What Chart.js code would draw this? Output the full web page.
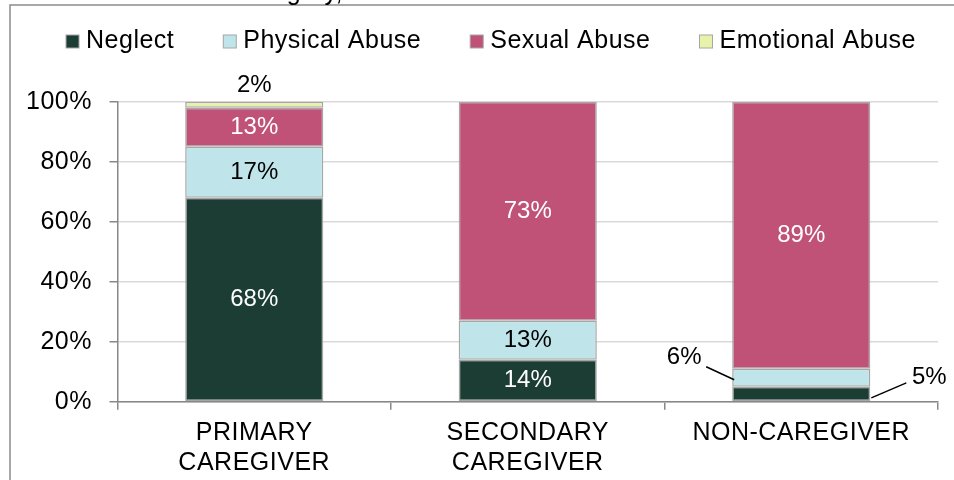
<!DOCTYPE html>
<html>
<head>
<meta charset="utf-8">
<script src="https://cdn.jsdelivr.net/npm/chart.js@4.4.1/dist/chart.umd.min.js"></script>
<style>
	html, body { margin: 0; padding: 0; background: #fff; }
	#chart { display: block; }
</style>
</head>
<body>
<canvas id="chart" width="954" height="480"></canvas>
<script>
const categories = [['PRIMARY', 'CAREGIVER'], ['SECONDARY', 'CAREGIVER'], ['NON-CAREGIVER']]
const seriesNames = ['Neglect', 'Physical Abuse', 'Sexual Abuse', 'Emotional Abuse']
const neglect = [68, 14, 5]
const physicalAbuse = [17, 13, 6]
const sexualAbuse = [13, 73, 89]
const emotionalAbuse = [2, 0, 0]
const yTicks = [0, 20, 40, 60, 80, 100]

const seriesValues = [neglect, physicalAbuse, sexualAbuse, emotionalAbuse]
const colors = ['#1b3d33', '#bfe5ea', '#c05277', '#e9f2aa']
const labelColors = ['#ffffff', '#000000', '#ffffff', '#000000']
const fontFamily = "'Liberation Sans', Arial, sans-serif"

Chart.defaults.font.family = fontFamily
Chart.defaults.color = '#000'

// wider letters like the original export
const spacing = {
	id: 'spacing',
	beforeLayout(chart) { chart.ctx.letterSpacing = '0.5px' },
	beforeDraw(chart) { chart.ctx.letterSpacing = '0.5px' },
}

// outer frame + cut off title at the top
const frame = {
	id: 'frame',
	afterDraw(chart) {
		const ctx = chart.ctx
		ctx.save()
		ctx.strokeStyle = '#8c8c8c'
		ctx.lineWidth = 1.5
		ctx.beginPath()
		ctx.moveTo(954, 5)
		ctx.lineTo(10, 5)
		ctx.lineTo(10, 480)
		ctx.stroke()
		ctx.fillStyle = '#000'
		ctx.font = '25px ' + fontFamily
		ctx.textAlign = 'right'
		ctx.textBaseline = 'alphabetic'
		ctx.fillText('Category,', 343, 0)
		ctx.restore()
	},
}

// legend drawn by hand so the spacing matches
const legendRow = {
	id: 'legendRow',
	afterDraw(chart) {
		const ctx = chart.ctx
		ctx.save()
		ctx.font = '25px ' + fontFamily
		ctx.letterSpacing = '0.5px'
		ctx.textBaseline = 'middle'
		ctx.textAlign = 'left'
		var box = 13
		var gap = 49
		var widths = chart.data.datasets.map((ds) => ctx.measureText(ds.label).width)
		var total = widths.reduce((a, w) => a + box + 7 + w, 0) + gap * (widths.length - 1)
		var x = 491 - total / 2
		var y = 41.5
		chart.data.datasets.forEach((ds, i) => {
			ctx.fillStyle = ds.backgroundColor
			ctx.fillRect(x, y - box / 2, box, box)
			ctx.strokeStyle = '#a6a6a6'
			ctx.lineWidth = 1
			ctx.strokeRect(x, y - box / 2, box, box)
			ctx.fillStyle = '#000'
			ctx.fillText(ds.label, x + box + 7, y)
			x += box + 7 + widths[i] + gap
		})
		ctx.restore()
	},
}

// value labels, small ones go outside with a leader line
const valueLabels = {
	id: 'valueLabels',
	afterDatasetsDraw(chart) {
		const ctx = chart.ctx
		ctx.save()
		ctx.font = '24px ' + fontFamily
		ctx.letterSpacing = '0px'
		ctx.textAlign = 'center'
		ctx.textBaseline = 'middle'
		chart.data.datasets.forEach((ds, di) => {
			chart.getDatasetMeta(di).data.forEach((bar, i) => {
				var v = ds.data[i]
				if (!v) return
				var text = v + '%'
				var h = bar.base - bar.y
				var cy = (bar.y + bar.base) / 2
				var left = bar.x - bar.width / 2
				var right = bar.x + bar.width / 2
				if (h >= 24) {
					ctx.fillStyle = labelColors[di]
					ctx.fillText(text, bar.x, cy)
					return
				}
				ctx.fillStyle = '#000'
				ctx.strokeStyle = '#000'
				ctx.lineWidth = 1.5
				if (di === seriesNames.length - 1) {
					ctx.fillText(text, bar.x, bar.y - 16)
				} else if (di === 0) {
					ctx.beginPath()
					ctx.moveTo(right + 1, cy + 4)
					ctx.lineTo(right + 36, cy - 11)
					ctx.stroke()
					ctx.fillText(text, right + 59, cy - 16)
				} else {
					ctx.beginPath()
					ctx.moveTo(left + 2, cy + 2)
					ctx.lineTo(left - 26, cy - 11)
					ctx.stroke()
					ctx.fillText(text, left - 48, cy - 20)
				}
			})
		})
		ctx.restore()
	},
}

new Chart(document.getElementById('chart'), {
	type: 'bar',
	data: {
		labels: categories,
		datasets: seriesNames.map((name, i) => ({
			label: name,
			data: seriesValues[i],
			backgroundColor: colors[i],
			borderColor: '#a6a6a6',
			borderWidth: (c) => (c.raw ? 1.5 : 0),
			borderSkipped: false,
			barPercentage: 0.505,
			categoryPercentage: 1,
		})),
	},
	options: {
		responsive: false,
		animation: false,
		layout: {
			padding: { top: 101.7, left: 12, right: 16, bottom: 0 },
		},
		scales: {
			x: {
				stacked: true,
				grid: {
					offset: true,
					drawOnChartArea: false,
					color: '#888',
					tickLength: 8,
					lineWidth: 1.5,
				},
				border: { color: '#888', width: 1.5 },
				ticks: {
					font: { size: 25 },
					color: '#000',
					padding: 8,
					maxRotation: 0,
					autoSkip: false,
				},
				afterFit: (s) => {
					s.height = 78.3
				},
			},
			y: {
				stacked: true,
				min: 0,
				max: 100,
				afterBuildTicks: (s) => {
					s.ticks = yTicks.map((v) => ({ value: v }))
				},
				grid: {
					color: '#d9d9d9',
					tickColor: '#888',
					tickLength: 8,
					lineWidth: 1.5,
				},
				border: { color: '#888', width: 1.5 },
				ticks: {
					font: { size: 25 },
					color: '#000',
					padding: 17.5,
					callback: (v) => v + '%',
				},
				afterFit: (s) => {
					s.width = 117.5 - 12
				},
			},
		},
		plugins: {
			legend: { display: false },
			tooltip: { enabled: false },
		},
	},
	plugins: [spacing, frame, legendRow, valueLabels],
})
</script>
</body>
</html>
